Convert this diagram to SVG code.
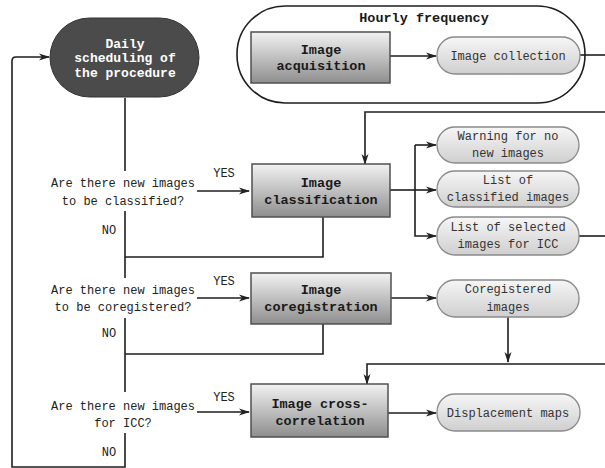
<svg xmlns="http://www.w3.org/2000/svg" width="605" height="468" viewBox="0 0 605 468">
<defs>
<linearGradient id="boxg" x1="0" y1="0" x2="0" y2="1">
<stop offset="0" stop-color="#f2f2f2"/>
<stop offset="1" stop-color="#8e8e8e"/>
</linearGradient>
<linearGradient id="outg" x1="0" y1="0" x2="0" y2="1">
<stop offset="0" stop-color="#f6f6f6"/>
<stop offset="1" stop-color="#cfcfcf"/>
</linearGradient>
<marker id="arr" markerWidth="11" markerHeight="8" refX="10" refY="4" orient="auto" markerUnits="userSpaceOnUse">
<path d="M0,0.5 L11,4 L0,7.5 L3,4 z" fill="#222"/>
</marker>
</defs>
<style>
.box{fill:url(#boxg);stroke:#505050;stroke-width:1.5}
.out{fill:url(#outg);stroke:#8a8a8a;stroke-width:1.3}
.bt{font-family:"Liberation Mono",monospace;font-weight:bold;font-size:13.5px;fill:#1a1a1a;text-anchor:middle}
.wt{font-family:"Liberation Mono",monospace;font-weight:bold;font-size:13px;fill:#ffffff;text-anchor:middle}
.ot{font-family:"Liberation Mono",monospace;font-size:12px;fill:#333;text-anchor:middle}
.qt{font-family:"Liberation Mono",monospace;font-size:12px;fill:#222;text-anchor:middle}
.yn{font-family:"Liberation Mono",monospace;font-size:12px;fill:#222;text-anchor:middle}
.ln{fill:none;stroke:#1e1e1e;stroke-width:1.6}
.la{fill:none;stroke:#1e1e1e;stroke-width:1.6;marker-end:url(#arr)}
</style>
<rect width="605" height="468" fill="#ffffff"/>

<g id="hourly">
<rect x="237" y="6" width="348" height="97" rx="48" ry="48" fill="none" stroke="#1e1e1e" stroke-width="1.6"/>
<text class="bt" x="424" y="22">Hourly frequency</text>
</g>

<g id="connectors">
<path class="la" d="M390,56 H436"/>
<path class="ln" d="M580,55 H605"/>
<path class="la" d="M605,112 H365 V164"/>
<path class="la" d="M197,191 H249"/>
<path class="ln" d="M390,190 H415"/>
<path class="la" d="M415,190 H436"/>
<path class="la" d="M415,145 V236 H436"/>
<path class="la" d="M415,145 H436"/>
<path class="ln" d="M579,236 H605"/>
<path class="ln" d="M323,217 V257 H125"/>
<path class="la" d="M197,298 H249"/>
<path class="la" d="M391,298 H436"/>
<path class="la" d="M508,317 V362"/>
<path class="ln" d="M323,324 V354 H125"/>
<path class="la" d="M605,364 H367 V384"/>
<path class="la" d="M197,412 H249"/>
<path class="la" d="M388,413 H436"/>
<path class="ln" d="M125,98 V171"/>
<path class="ln" d="M125,211 V278"/>
<path class="ln" d="M125,318 V392"/>
<path class="la" d="M125,433 V467 H12 V61 Q12,57 16,57 H49"/>
</g>

<g id="daily">
<rect x="50" y="18" width="149" height="79" rx="39.5" ry="39.5" fill="#4b4b4b" stroke="#333" stroke-width="1"/>
<text class="wt" x="125" y="47.5">Daily</text>
<text class="wt" x="125" y="62">scheduling of</text>
<text class="wt" x="125" y="76.5">the procedure</text>
</g>

<g id="acquisition">
<rect class="box" x="251" y="32" width="139" height="51"/>
<text class="bt" x="321" y="54">Image</text>
<text class="bt" x="321" y="70">acquisition</text>
</g>

<g id="collection">
<rect class="out" x="437" y="37" width="143" height="37" rx="18" ry="18"/>
<text class="ot" x="508" y="60">Image collection</text>
</g>

<g id="classification">
<rect class="box" x="252" y="164" width="138" height="53"/>
<text class="bt" x="321" y="187">Image</text>
<text class="bt" x="321" y="204">classification</text>
</g>

<g id="warning">
<rect class="out" x="437" y="127" width="142" height="36" rx="18" ry="18"/>
<text class="ot" x="508" y="140">Warning for no</text>
<text class="ot" x="508" y="157">new images</text>
</g>

<g id="classified">
<rect class="out" x="437" y="171" width="142" height="36" rx="18" ry="18"/>
<text class="ot" x="508" y="184">List of</text>
<text class="ot" x="508" y="201">classified images</text>
</g>

<g id="selected">
<rect class="out" x="437" y="217" width="142" height="38" rx="18" ry="18"/>
<text class="ot" x="508" y="231">List of selected</text>
<text class="ot" x="508" y="248">images for ICC</text>
</g>

<g id="coregistration">
<rect class="box" x="251" y="273" width="140" height="51"/>
<text class="bt" x="321" y="294">Image</text>
<text class="bt" x="321" y="311">coregistration</text>
</g>

<g id="coregistered">
<rect class="out" x="437" y="280" width="142" height="37" rx="18" ry="18"/>
<text class="ot" x="508" y="293">Coregistered</text>
<text class="ot" x="508" y="311">images</text>
</g>

<g id="crosscorrelation">
<rect class="box" x="251" y="384" width="137" height="53"/>
<text class="bt" x="320" y="408">Image cross-</text>
<text class="bt" x="320" y="425">correlation</text>
</g>

<g id="displacement">
<rect class="out" x="437" y="394" width="143" height="37" rx="18" ry="18"/>
<text class="ot" x="508" y="417">Displacement maps</text>
</g>

<g id="q1">
<text class="qt" x="123" y="187">Are there new images</text>
<text class="qt" x="123" y="205">to be classified?</text>
<text class="yn" x="224" y="177">YES</text>
<text class="yn" x="109" y="234">NO</text>
</g>

<g id="q2">
<text class="qt" x="123" y="294">Are there new images</text>
<text class="qt" x="123" y="311">to be coregistered?</text>
<text class="yn" x="224" y="285">YES</text>
<text class="yn" x="109" y="337">NO</text>
</g>

<g id="q3">
<text class="qt" x="123" y="410">Are there new images</text>
<text class="qt" x="123" y="427">for ICC?</text>
<text class="yn" x="224" y="401">YES</text>
<text class="yn" x="109" y="456">NO</text>
</g>
</svg>
